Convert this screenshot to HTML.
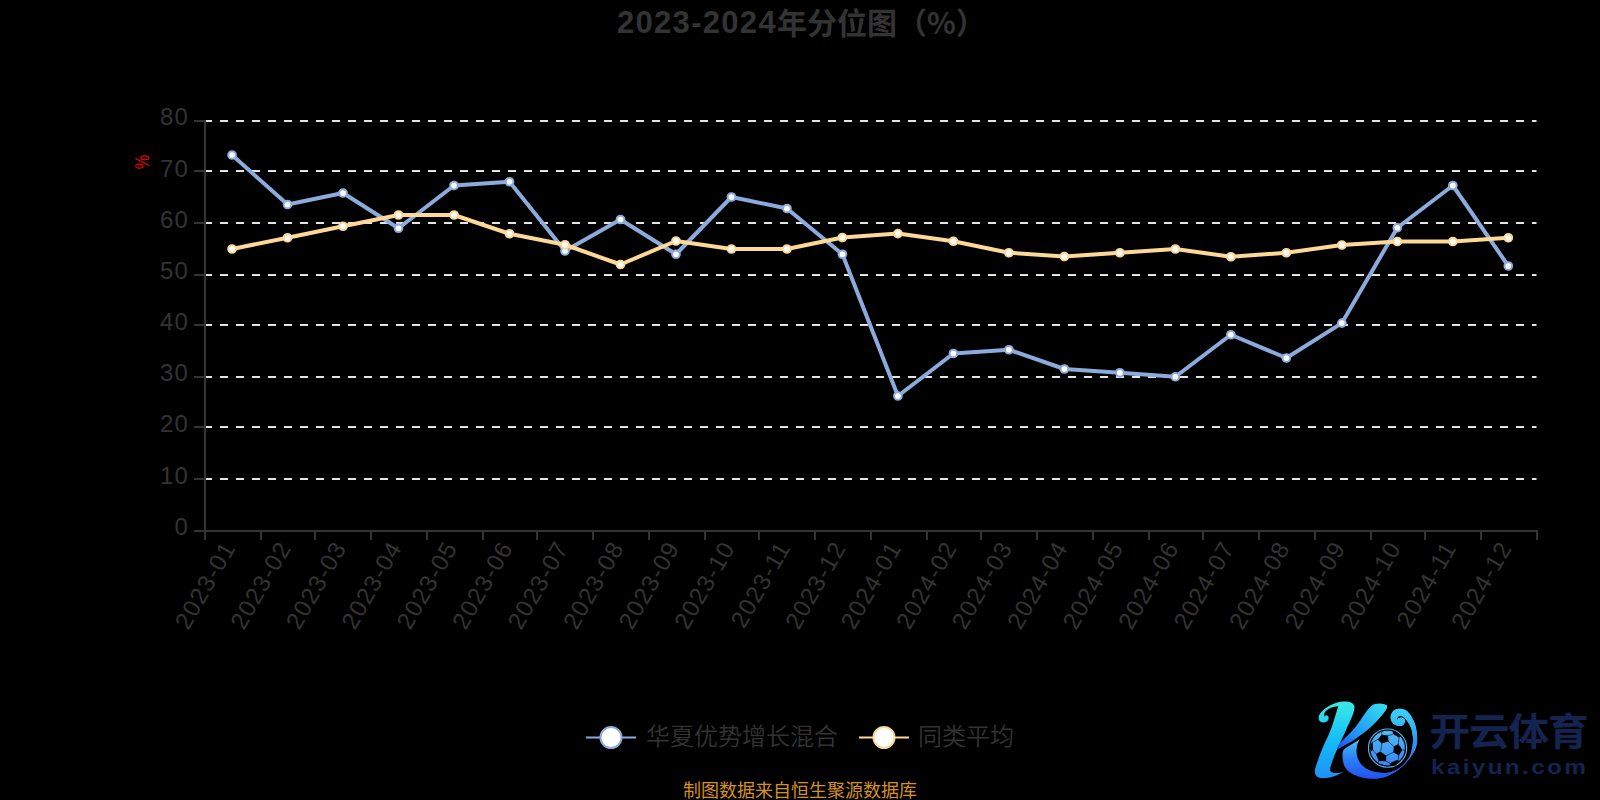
<!DOCTYPE html>
<html lang="zh-CN"><head><meta charset="utf-8"><title>2023-2024年分位图（%）</title>
<style>
html,body{margin:0;padding:0;background:#000;}
body{width:1600px;height:800px;overflow:hidden;position:relative;}
svg{position:absolute;left:0;top:0;display:block;}
text{font-family:"Liberation Sans","Noto Sans CJK SC",sans-serif;}
.ax{fill:#333333;font-size:24px;letter-spacing:1.2px;}
.cjk{font-family:"Noto Sans CJK SC","Liberation Sans",sans-serif;}
</style></head><body>
<svg width="1600" height="800" viewBox="0 0 1600 800">
<rect width="1600" height="800" fill="#000"/>
<text x="617" y="33.2" font-weight="bold" fill="#333"><tspan font-size="31" letter-spacing="1.3">2023-2024</tspan><tspan class="cjk" font-size="30" dy="0.6">年分位图（%）</tspan></text>
<g stroke="#E4E4E4" stroke-width="2" stroke-dasharray="8 8" fill="none">
<path d="M204 479H1536.5"/>
<path d="M204 427H1536.5"/>
<path d="M204 377H1536.5"/>
<path d="M204 325H1536.5"/>
<path d="M204 275H1536.5"/>
<path d="M204 223H1536.5"/>
<path d="M204 171H1536.5"/>
<path d="M204 121H1536.5"/>
</g>
<g stroke="#333333" stroke-width="2" fill="none">
<path d="M205 120V532"/>
<path d="M204 531H1538"/>
<path d="M194 531H204"/>
<path d="M194 479H204"/>
<path d="M194 427H204"/>
<path d="M194 377H204"/>
<path d="M194 325H204"/>
<path d="M194 275H204"/>
<path d="M194 223H204"/>
<path d="M194 171H204"/>
<path d="M194 121H204"/>
<path d="M205 530V540"/>
<path d="M261 530V540"/>
<path d="M315 530V540"/>
<path d="M371 530V540"/>
<path d="M427 530V540"/>
<path d="M483 530V540"/>
<path d="M537 530V540"/>
<path d="M593 530V540"/>
<path d="M649 530V540"/>
<path d="M705 530V540"/>
<path d="M759 530V540"/>
<path d="M815 530V540"/>
<path d="M871 530V540"/>
<path d="M927 530V540"/>
<path d="M981 530V540"/>
<path d="M1037 530V540"/>
<path d="M1093 530V540"/>
<path d="M1149 530V540"/>
<path d="M1203 530V540"/>
<path d="M1259 530V540"/>
<path d="M1315 530V540"/>
<path d="M1371 530V540"/>
<path d="M1425 530V540"/>
<path d="M1481 530V540"/>
<path d="M1537 530V540"/>
</g>
<g class="ax" text-anchor="end">
<text x="189" y="534.7">0</text>
<text x="189" y="483.5">10</text>
<text x="189" y="432.3">20</text>
<text x="189" y="381.1">30</text>
<text x="189" y="329.9">40</text>
<text x="189" y="278.7">50</text>
<text x="189" y="227.5">60</text>
<text x="189" y="177.3">70</text>
<text x="189" y="125.1">80</text>
</g>
<text transform="translate(149.4 162) rotate(-90) scale(0.82 1)" text-anchor="middle" font-size="20" fill="#e60000">%</text>
<g class="ax" text-anchor="end">
<text transform="translate(228.45 544.2) rotate(-60)" x="1.2" y="8.5">2023-01</text>
<text transform="translate(283.94 544.2) rotate(-60)" x="1.2" y="8.5">2023-02</text>
<text transform="translate(339.42 544.2) rotate(-60)" x="1.2" y="8.5">2023-03</text>
<text transform="translate(394.91 544.2) rotate(-60)" x="1.2" y="8.5">2023-04</text>
<text transform="translate(450.40 544.2) rotate(-60)" x="1.2" y="8.5">2023-05</text>
<text transform="translate(505.89 544.2) rotate(-60)" x="1.2" y="8.5">2023-06</text>
<text transform="translate(561.38 544.2) rotate(-60)" x="1.2" y="8.5">2023-07</text>
<text transform="translate(616.88 544.2) rotate(-60)" x="1.2" y="8.5">2023-08</text>
<text transform="translate(672.37 544.2) rotate(-60)" x="1.2" y="8.5">2023-09</text>
<text transform="translate(727.85 544.2) rotate(-60)" x="1.2" y="8.5">2023-10</text>
<text transform="translate(783.34 544.2) rotate(-60)" x="1.2" y="8.5">2023-11</text>
<text transform="translate(838.83 544.2) rotate(-60)" x="1.2" y="8.5">2023-12</text>
<text transform="translate(894.32 544.2) rotate(-60)" x="1.2" y="8.5">2024-01</text>
<text transform="translate(949.81 544.2) rotate(-60)" x="1.2" y="8.5">2024-02</text>
<text transform="translate(1005.30 544.2) rotate(-60)" x="1.2" y="8.5">2024-03</text>
<text transform="translate(1060.80 544.2) rotate(-60)" x="1.2" y="8.5">2024-04</text>
<text transform="translate(1116.29 544.2) rotate(-60)" x="1.2" y="8.5">2024-05</text>
<text transform="translate(1171.78 544.2) rotate(-60)" x="1.2" y="8.5">2024-06</text>
<text transform="translate(1227.27 544.2) rotate(-60)" x="1.2" y="8.5">2024-07</text>
<text transform="translate(1282.76 544.2) rotate(-60)" x="1.2" y="8.5">2024-08</text>
<text transform="translate(1338.25 544.2) rotate(-60)" x="1.2" y="8.5">2024-09</text>
<text transform="translate(1393.74 544.2) rotate(-60)" x="1.2" y="8.5">2024-10</text>
<text transform="translate(1449.23 544.2) rotate(-60)" x="1.2" y="8.5">2024-11</text>
<text transform="translate(1504.72 544.2) rotate(-60)" x="1.2" y="8.5">2024-12</text>
</g>
<polyline points="232.05,155.00 287.54,204.50 343.02,193.00 398.51,228.25 454.00,185.50 509.50,181.75 564.99,251.00 620.48,219.50 675.97,254.25 731.45,197.00 786.94,208.50 842.43,254.25 897.92,396.00 953.41,353.50 1008.90,349.75 1064.39,369.00 1119.88,372.75 1175.38,376.75 1230.87,334.75 1286.36,358.00 1341.85,323.10 1397.34,227.75 1452.83,185.50 1508.32,266.00" fill="none" stroke="#8BABDC" stroke-width="4" stroke-linejoin="bevel"/>
<polyline points="232.05,249.00 287.54,237.75 343.02,226.25 398.51,215.00 454.00,215.00 509.50,233.75 564.99,244.75 620.48,264.50 675.97,241.00 731.45,249.00 786.94,249.00 842.43,237.50 897.92,233.60 953.41,241.25 1008.90,252.75 1064.39,256.50 1119.88,252.75 1175.38,249.00 1230.87,256.75 1286.36,252.75 1341.85,245.00 1397.34,241.50 1452.83,241.50 1508.32,237.75" fill="none" stroke="#FDD896" stroke-width="4" stroke-linejoin="bevel"/>
<g fill="#fff" stroke="#8BABDC" stroke-width="2">
<circle cx="232.05" cy="155.00" r="3.85"/>
<circle cx="287.54" cy="204.50" r="3.85"/>
<circle cx="343.02" cy="193.00" r="3.85"/>
<circle cx="398.51" cy="228.25" r="3.85"/>
<circle cx="454.00" cy="185.50" r="3.85"/>
<circle cx="509.50" cy="181.75" r="3.85"/>
<circle cx="564.99" cy="251.00" r="3.85"/>
<circle cx="620.48" cy="219.50" r="3.85"/>
<circle cx="675.97" cy="254.25" r="3.85"/>
<circle cx="731.45" cy="197.00" r="3.85"/>
<circle cx="786.94" cy="208.50" r="3.85"/>
<circle cx="842.43" cy="254.25" r="3.85"/>
<circle cx="897.92" cy="396.00" r="3.85"/>
<circle cx="953.41" cy="353.50" r="3.85"/>
<circle cx="1008.90" cy="349.75" r="3.85"/>
<circle cx="1064.39" cy="369.00" r="3.85"/>
<circle cx="1119.88" cy="372.75" r="3.85"/>
<circle cx="1175.38" cy="376.75" r="3.85"/>
<circle cx="1230.87" cy="334.75" r="3.85"/>
<circle cx="1286.36" cy="358.00" r="3.85"/>
<circle cx="1341.85" cy="323.10" r="3.85"/>
<circle cx="1397.34" cy="227.75" r="3.85"/>
<circle cx="1452.83" cy="185.50" r="3.85"/>
<circle cx="1508.32" cy="266.00" r="3.85"/>
</g>
<g fill="#fff" stroke="#FDD896" stroke-width="2">
<circle cx="232.05" cy="249.00" r="3.85"/>
<circle cx="287.54" cy="237.75" r="3.85"/>
<circle cx="343.02" cy="226.25" r="3.85"/>
<circle cx="398.51" cy="215.00" r="3.85"/>
<circle cx="454.00" cy="215.00" r="3.85"/>
<circle cx="509.50" cy="233.75" r="3.85"/>
<circle cx="564.99" cy="244.75" r="3.85"/>
<circle cx="620.48" cy="264.50" r="3.85"/>
<circle cx="675.97" cy="241.00" r="3.85"/>
<circle cx="731.45" cy="249.00" r="3.85"/>
<circle cx="786.94" cy="249.00" r="3.85"/>
<circle cx="842.43" cy="237.50" r="3.85"/>
<circle cx="897.92" cy="233.60" r="3.85"/>
<circle cx="953.41" cy="241.25" r="3.85"/>
<circle cx="1008.90" cy="252.75" r="3.85"/>
<circle cx="1064.39" cy="256.50" r="3.85"/>
<circle cx="1119.88" cy="252.75" r="3.85"/>
<circle cx="1175.38" cy="249.00" r="3.85"/>
<circle cx="1230.87" cy="256.75" r="3.85"/>
<circle cx="1286.36" cy="252.75" r="3.85"/>
<circle cx="1341.85" cy="245.00" r="3.85"/>
<circle cx="1397.34" cy="241.50" r="3.85"/>
<circle cx="1452.83" cy="241.50" r="3.85"/>
<circle cx="1508.32" cy="237.75" r="3.85"/>
</g>
<path d="M586 737.5H636" stroke="#8BABDC" stroke-width="2" fill="none"/>
<circle cx="611" cy="737.5" r="10.5" fill="#fff" stroke="#8BABDC" stroke-width="2"/>
<text class="cjk" x="646" y="744.8" font-size="24" font-weight="350" fill="#333">华夏优势增长混合</text>
<path d="M859 737.5H909" stroke="#FDD896" stroke-width="2" fill="none"/>
<circle cx="884" cy="737.5" r="10.5" fill="#fff" stroke="#FDD896" stroke-width="2"/>
<text class="cjk" x="918" y="744.8" font-size="24" font-weight="350" fill="#333">同类平均</text>
<text class="cjk" x="800" y="796.5" text-anchor="middle" font-size="18" fill="#D4921F">制图数据来自恒生聚源数据库</text>
<defs>
<linearGradient id="ks" gradientUnits="userSpaceOnUse" x1="0" y1="55" x2="0" y2="740"><stop offset="0" stop-color="#3CEBE2"/><stop offset="0.28" stop-color="#25D2F2"/><stop offset="0.55" stop-color="#14B8F8"/><stop offset="1" stop-color="#1E90F6"/></linearGradient>
<linearGradient id="ka" gradientUnits="userSpaceOnUse" x1="291" y1="487" x2="690" y2="80"><stop offset="0" stop-color="#2B48F0"/><stop offset="0.35" stop-color="#2090F6"/><stop offset="1" stop-color="#34DCF2"/></linearGradient>
<linearGradient id="kl" gradientUnits="userSpaceOnUse" x1="0" y1="395" x2="0" y2="750"><stop offset="0" stop-color="#48C4F6"/><stop offset="0.465" stop-color="#2C80F5"/><stop offset="1" stop-color="#2150F0"/></linearGradient>
<linearGradient id="kw" gradientUnits="userSpaceOnUse" x1="0" y1="120" x2="0" y2="750"><stop offset="0" stop-color="#36D4F8"/><stop offset="0.2" stop-color="#34BEF6"/><stop offset="0.44" stop-color="#2F96F5"/><stop offset="0.698" stop-color="#2C80F5"/><stop offset="1" stop-color="#2150F0"/></linearGradient>
<clipPath id="cr"><rect x="619" y="0" width="500" height="800"/></clipPath>
<linearGradient id="bg" gradientUnits="userSpaceOnUse" x1="0" y1="300" x2="0" y2="640"><stop offset="0" stop-color="#52BDF6"/><stop offset="1" stop-color="#3684F4"/></linearGradient>
</defs>
<g transform="translate(1305 695) scale(0.11246)">
<path fill="url(#ks)" d="M296 100 C276 160 262 214 244 267 C218 340 200 380 170 440 C140 510 110 590 91 653 C78 700 100 735 140 738 C180 742 215 736 250 725 C290 712 325 695 345 680 C310 692 270 700 245 690 C225 682 218 670 222 655 C238 600 262 535 284 487 C305 440 340 365 365 311 C395 245 446 146 440 102 C432 64 384 54 334 58 C262 64 180 108 138 160 C106 202 122 244 160 244 C198 244 220 214 206 192 C198 176 178 178 174 194 C160 172 176 142 216 120 C246 106 274 100 296 100Z"/>
<path fill="url(#kl)" d="M351 480 C390 452 440 425 484 396 C470 420 460 455 458 489 C457 515 460 535 467 556 C474 578 484 597 498 613 C515 633 535 650 560 662 C585 675 612 684 645 689 C675 693 705 694 734 691 C757 688 780 681 800 671 C825 659 848 645 867 627 C890 605 910 582 925 556 C937 535 945 512 949 489 C956 460 960 425 962 394 C958 360 955 330 947 304 C938 280 930 262 917 244 C908 230 900 216 887 204 C876 194 864 188 852 187 C840 187 830 190 824 197 C818 205 815 214 817 224 C822 214 826 210 832 207 C840 202 848 200 857 200 C868 201 876 205 882 212 C888 220 890 225 889 230 C890 236 889 240 887 244 C880 260 870 270 857 274 C843 277 830 276 817 272 C800 266 785 257 777 244 C766 228 760 210 762 190 C765 170 774 152 787 140 C800 128 818 122 837 122 C856 121 875 125 892 134 C915 148 934 170 947 194 C965 225 980 260 987 294 C994 330 998 360 997 394 C997 425 990 460 978 489 C970 505 962 520 951 533 C935 560 913 588 889 613 C862 640 833 665 800 685 C772 702 743 718 711 729 C676 739 640 745 600 745 C560 745 523 740 489 729 C455 718 425 706 400 689 C375 671 357 648 347 622 C338 597 333 565 333 533 C333 510 338 490 351 480Z"/>
<path fill="url(#kw)" clip-path="url(#cr)" d="M351 480 C390 452 440 425 484 396 C470 420 460 455 458 489 C457 515 460 535 467 556 C474 578 484 597 498 613 C515 633 535 650 560 662 C585 675 612 684 645 689 C675 693 705 694 734 691 C757 688 780 681 800 671 C825 659 848 645 867 627 C890 605 910 582 925 556 C937 535 945 512 949 489 C956 460 960 425 962 394 C958 360 955 330 947 304 C938 280 930 262 917 244 C908 230 900 216 887 204 C876 194 864 188 852 187 C840 187 830 190 824 197 C818 205 815 214 817 224 C822 214 826 210 832 207 C840 202 848 200 857 200 C868 201 876 205 882 212 C888 220 890 225 889 230 C890 236 889 240 887 244 C880 260 870 270 857 274 C843 277 830 276 817 272 C800 266 785 257 777 244 C766 228 760 210 762 190 C765 170 774 152 787 140 C800 128 818 122 837 122 C856 121 875 125 892 134 C915 148 934 170 947 194 C965 225 980 260 987 294 C994 330 998 360 997 394 C997 425 990 460 978 489 C970 505 962 520 951 533 C935 560 913 588 889 613 C862 640 833 665 800 685 C772 702 743 718 711 729 C676 739 640 745 600 745 C560 745 523 740 489 729 C455 718 425 706 400 689 C375 671 357 648 347 622 C338 597 333 565 333 533 C333 510 338 490 351 480Z"/>
<path fill="url(#ka)" d="M284 486 C290 460 300 440 311 427 C350 385 390 350 427 311 C490 240 540 140 590 95 C622 68 702 68 730 94 C742 112 700 166 640 232 C600 275 570 300 533 329 C480 370 430 405 391 427 C350 450 315 470 284 486Z"/>
<circle cx="734" cy="472" r="170" fill="none" stroke="#58B6F8" stroke-width="10"/>
<circle cx="734" cy="472" r="154" fill="url(#bg)"/>
<polygon fill="#000" points="645.4,394.7 681.8,352.7 737.8,361.1 743.4,414.3 681.8,431.1"/>
<polygon fill="#000" points="790.3,458.9 829.5,436.5 865.9,486.9 835.1,537.4 784.7,509.3"/>
<polygon fill="#000" points="630.7,524.2 670.0,501.8 723.2,541.1 720.4,588.7 656.0,585.9"/>
<polygon fill="#000" points="780.0,317.4 813.6,332.5 852.9,368.9 836.1,379.0 782.8,346.5"/>
<polygon fill="#000" points="581.5,439.1 602.2,416.7 605.0,489.5 587.1,503.5 578.2,472.7"/>
<polygon fill="#000" points="751.2,609.6 815.7,578.8 844.8,590.0 804.5,626.4 765.2,630.4"/>
<polyline fill="none" stroke="#000" stroke-width="5" points="683.5,356.8 681.0,326.8"/>
<polyline fill="none" stroke="#000" stroke-width="5" points="733.6,364.3 781.1,349.3"/>
<polyline fill="none" stroke="#000" stroke-width="5" points="738.6,411.8 791.1,459.3"/>
<polyline fill="none" stroke="#000" stroke-width="5" points="683.5,426.8 673.5,499.3"/>
<polyline fill="none" stroke="#000" stroke-width="5" points="651.0,394.3 603.5,419.3"/>
<polyline fill="none" stroke="#000" stroke-width="5" points="828.6,441.8 836.1,374.3"/>
<polyline fill="none" stroke="#000" stroke-width="5" points="861.1,486.8 891.1,494.3"/>
<polyline fill="none" stroke="#000" stroke-width="5" points="833.6,531.8 828.6,586.8"/>
<polyline fill="none" stroke="#000" stroke-width="5" points="788.6,506.8 721.1,540.8"/>
<polyline fill="none" stroke="#000" stroke-width="5" points="636.0,526.8 603.5,489.3"/>
<polyline fill="none" stroke="#000" stroke-width="5" points="716.1,584.3 758.6,607.9"/>
<polyline fill="none" stroke="#000" stroke-width="5" points="658.5,581.8 651.0,599.3"/>
</g>
<text transform="translate(1429.4 744.5) scale(1.068 1)" font-size="38" font-weight="bold" fill="#132450" letter-spacing="-1" style="font-family:'Noto Sans CJK SC','Liberation Sans',sans-serif">开云体育</text>
<text transform="translate(1431 773.7) scale(1.25 1)" font-size="19.5" font-weight="bold" fill="#132450" letter-spacing="1.85" style="font-family:'Liberation Sans',sans-serif">kaiyun.com</text>
</svg></body></html>
